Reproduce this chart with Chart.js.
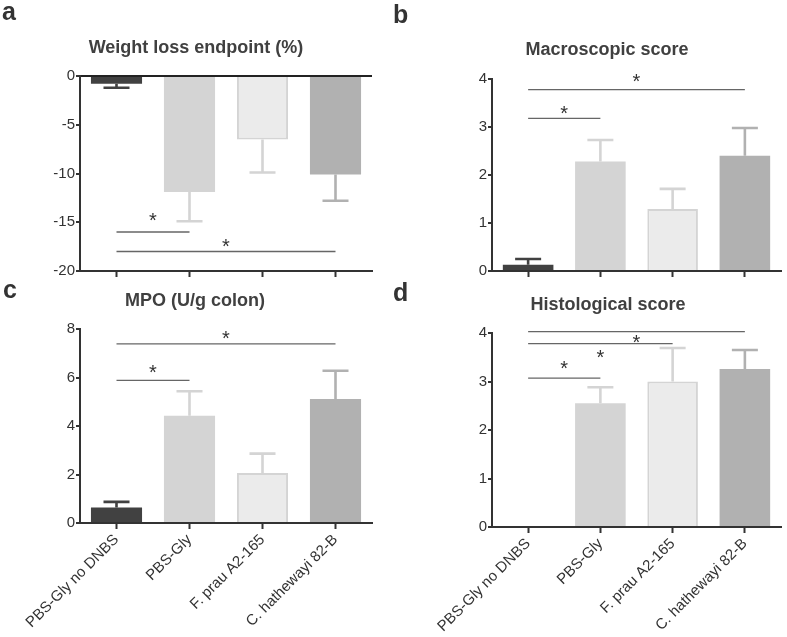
<!DOCTYPE html>
<html><head><meta charset="utf-8">
<script src="https://cdn.jsdelivr.net/npm/chart.js@4.4.1/dist/chart.umd.min.js"></script>
<style>
html,body{margin:0;padding:0;background:#fff;}
#wrap{position:relative;width:787px;height:637px;overflow:hidden;font-family:"Liberation Sans",Arial,sans-serif;}
#wrap canvas{position:absolute;left:0;top:0;}
.lbl{position:absolute;font-weight:bold;color:#333;white-space:nowrap;line-height:1;}
.letter{font-size:25px;}
.title{font-size:18px;transform:translateX(-50%);color:#404040;}
</style></head>
<body><div id="wrap">
<canvas id="ca" width="787" height="637" style="width:787px;height:637px"></canvas>
<canvas id="cb" width="787" height="637" style="width:787px;height:637px"></canvas>
<canvas id="cc" width="787" height="637" style="width:787px;height:637px"></canvas>
<canvas id="cd" width="787" height="637" style="width:787px;height:637px"></canvas>
<div class="lbl letter" style="left:2px;top:-1px">a</div>
<div class="lbl letter" style="left:393px;top:2px">b</div>
<div class="lbl letter" style="left:3px;top:277px">c</div>
<div class="lbl letter" style="left:393px;top:280px">d</div>
<div class="lbl title" style="left:196px;top:38px">Weight loss endpoint (%)</div>
<div class="lbl title" style="left:607px;top:40px">Macroscopic score</div>
<div class="lbl title" style="left:195px;top:291px">MPO (U/g colon)</div>
<div class="lbl title" style="left:608px;top:295px">Histological score</div>
</div>
<script>
// ---- data ----
const categories = ['PBS-Gly no DNBS', 'PBS-Gly', 'F. prau A2-165', 'C. hathewayi 82-B'];

const weightLoss = [-0.8, -11.9, -6.5, -10.1];
const weightLossSem = [0.4, 3.0, 3.4, 2.7];
const weightTicks = {min: -20, max: 0, step: 5};
// [from category, to category, line value, star value]
const weightSig = [[0, 1, -16.0, -14.5], [0, 3, -18.0, -17.15]];

const macroscopic = [0.13, 2.28, 1.29, 2.40];
const macroscopicSem = [0.12, 0.45, 0.42, 0.58];
const macroTicks = {min: 0, max: 4, step: 1};
const macroSig = [[0, 1, 3.18, 3.36], [0, 3, 3.78, 4.02]];

const mpo = [0.64, 4.42, 2.06, 5.11];
const mpoSem = [0.23, 1.01, 0.80, 1.17];
const mpoTicks = {min: 0, max: 8, step: 2};
const mpoSig = [[0, 1, 5.88, 6.35], [0, 3, 7.39, 7.76]];

const histological = [0, 2.55, 3.00, 3.26];
const histologicalSem = [0, 0.33, 0.69, 0.39];
const histoTicks = {min: 0, max: 4, step: 1};
const histoSig = [[0, 1, 3.07, 3.33], [0, 2, 3.78, 3.56], [0, 3, 4.03, 3.88]];

// ---- styling ----
const FONT = '"Liberation Sans", Arial, sans-serif';
const barFill = ['#414141', '#d4d4d4', '#ebebeb', '#b1b1b1'];
const barEdge = ['#414141', '#d4d4d4', '#d4d4d4', '#b1b1b1'];
const barEdgeWidth = [0, 0, 2, 0];

function errorPlugin(values, sem) {
  return {
    id: 'errbars',
    afterDatasetsDraw(chart) {
      const ctx = chart.ctx, meta = chart.getDatasetMeta(0), ys = chart.scales.y;
      ctx.save();
      values.forEach((v, i) => {
        if (!sem[i]) return;
        const dir = v < 0 ? -1 : 1;
        const x = meta.data[i].x;
        const y0 = ys.getPixelForValue(v);
        const y1 = ys.getPixelForValue(v + dir * sem[i]);
        ctx.strokeStyle = barEdge[i];
        ctx.lineWidth = 2.6;
        ctx.beginPath();
        ctx.moveTo(x, y0); ctx.lineTo(x, y1);
        ctx.moveTo(x - 13, y1); ctx.lineTo(x + 13, y1);
        ctx.stroke();
      });
      ctx.restore();
    }
  };
}

function sigPlugin(sigs) {
  return {
    id: 'sig',
    afterDraw(chart) {
      const ctx = chart.ctx, xs = chart.scales.x, ys = chart.scales.y;
      ctx.save();
      ctx.font = '20px ' + FONT;
      ctx.textAlign = 'center';
      ctx.textBaseline = 'alphabetic';
      const m = ctx.measureText('*');
      const off = (m.actualBoundingBoxAscent - m.actualBoundingBoxDescent) / 2;
      sigs.forEach(s => {
        const xa = xs.getPixelForValue(s[0]);
        const xb = xs.getPixelForValue(s[1]);
        const yl = ys.getPixelForValue(s[2]);
        ctx.strokeStyle = '#666';
        ctx.lineWidth = 1.3;
        ctx.beginPath();
        ctx.moveTo(xa, yl); ctx.lineTo(xb, yl);
        ctx.stroke();
        ctx.fillStyle = '#333';
        ctx.fillText('*', (xa + xb) / 2, ys.getPixelForValue(s[3]) + off);
      });
      ctx.restore();
    }
  };
}

function makeChart(id, values, sem, tk, sigs, area, showX, zeroLine) {
  const yW = 40;
  const xH = showX ? 637 - area.B : 10;
  new Chart(document.getElementById(id), {
    type: 'bar',
    data: {
      labels: categories,
      datasets: [{
        data: values,
        backgroundColor: barFill,
        borderColor: barEdge,
        borderWidth: barEdgeWidth,
        barPercentage: 0.7,
        categoryPercentage: 1.0
      }]
    },
    options: {
      responsive: false,
      animation: false,
      events: [],
      layout: {padding: {left: area.L - yW, right: 787 - area.R, top: area.T, bottom: 637 - area.B - xH}},
      plugins: {legend: {display: false}, tooltip: {enabled: false}, title: {display: false}},
      scales: {
        x: {
          type: 'category',
          offset: true,
          ticks: {display: showX, minRotation: 45, maxRotation: 45, autoSkip: false, color: '#333', font: {size: 15, family: FONT}, padding: 2},
          grid: {display: true, drawOnChartArea: false, drawTicks: true, tickLength: 6, offset: false, tickColor: '#333', tickWidth: 2},
          border: {display: true, color: '#333', width: 2},
          afterFit: s => { s.height = xH; s.paddingLeft = 0; s.paddingRight = 0; }
        },
        y: {
          min: tk.min, max: tk.max,
          ticks: {stepSize: tk.step, color: '#333', font: {size: 15, family: FONT}, padding: 1},
          grid: {
            display: true, drawOnChartArea: zeroLine, drawTicks: true, tickLength: 4,
            color: c => (zeroLine && c.tick && c.tick.value === 0) ? '#222' : 'rgba(0,0,0,0)',
            lineWidth: 2, tickColor: '#333', tickWidth: 2
          },
          border: {display: true, color: '#333', width: 2},
          afterFit: s => { s.width = yW; s.paddingTop = 0; s.paddingBottom = 0; }
        }
      }
    },
    plugins: [errorPlugin(values, sem), sigPlugin(sigs)]
  });
}

makeChart('ca', weightLoss, weightLossSem, weightTicks, weightSig, {L: 80, R: 372, T: 76, B: 271}, false, true);
makeChart('cb', macroscopic, macroscopicSem, macroTicks, macroSig, {L: 492, R: 781, T: 79, B: 271}, false, false);
makeChart('cc', mpo, mpoSem, mpoTicks, mpoSig, {L: 80, R: 372, T: 329, B: 523}, true, false);
makeChart('cd', histological, histologicalSem, histoTicks, histoSig, {L: 492, R: 781, T: 333, B: 527}, true, false);
</script>
</body></html>
